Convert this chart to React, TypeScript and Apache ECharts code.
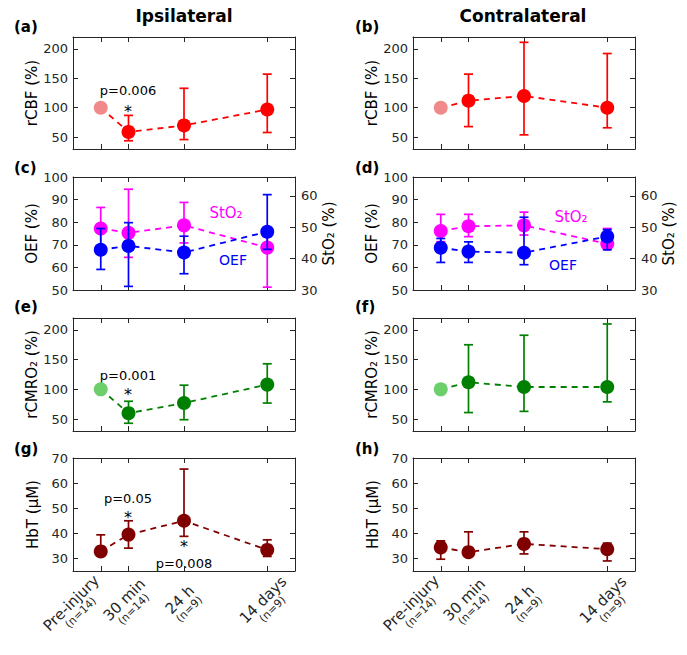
import React, { useEffect, useRef } from "react";
import * as echarts from "echarts";

const xPositions = [0, 1, 3, 6];
const xNames = ["Pre-injury", "30 min", "24 h", "14 days"];
const xCounts = ["(n=14)", "(n=14)", "(n=9)", "(n=9)"];

// (a) rCBF ipsilateral
const cbfIpsiMean = [100, 59, 70, 97];
const cbfIpsiLo = [null, 44, 46, 58];
const cbfIpsiHi = [null, 87, 133, 157];
// (b) rCBF contralateral
const cbfContraMean = [100, 112, 120, 100];
const cbfContraLo = [null, 68, 54, 66];
const cbfContraHi = [null, 157, 211, 192];
// (c) OEF / StO2 ipsilateral
const oefIpsiMean = [67.8, 69.5, 66.6, 75.8];
const oefIpsiLo = [59.1, 51.6, 57.2, 68];
const oefIpsiHi = [77.2, 79.8, 73.8, 92.2];
const sto2IpsiMean = [49.6, 48.2, 50.6, 43.5];
const sto2IpsiLo = [43, 40.4, 45, 30.9];
const sto2IpsiHi = [56.3, 62.1, 57.9, 47];
// (d) OEF / StO2 contralateral
const oefContraMean = [68.7, 67.0, 66.5, 73.7];
const oefContraLo = [62.2, 62.2, 61.2, 67.8];
const oefContraHi = [72.8, 71.3, 82.2, 76.7];
const sto2ContraMean = [48.8, 50.3, 50.6, 44.7];
const sto2ContraLo = [45.4, 47, 47.5, 43.6];
const sto2ContraHi = [54.1, 54.1, 54.8, 49.6];
// (e) rCMRO2 ipsilateral
const cmroIpsiMean = [100, 60, 77, 108];
const cmroIpsiLo = [null, 43, 49, 77];
const cmroIpsiHi = [null, 80, 107, 143];
// (f) rCMRO2 contralateral
const cmroContraMean = [100, 112, 104, 104];
const cmroContraLo = [null, 61, 63, 79];
const cmroContraHi = [null, 175, 191, 210];
// (g) HbT ipsilateral
const hbtIpsiMean = [32.8, 39.5, 45, 33.4];
const hbtIpsiLo = [31, 34.1, 38.8, 30.8];
const hbtIpsiHi = [39.4, 45, 65.6, 37.4];
// (h) HbT contralateral
const hbtContraMean = [34.4, 32.5, 35.8, 33.7];
const hbtContraLo = [29.7, 31, 31.8, 29];
const hbtContraHi = [37, 40.6, 40.6, 36.1];

const pctTicks = [50, 100, 150, 200];
const oefTicks = [50, 60, 70, 80, 90, 100];
const sto2Ticks = [30, 40, 50, 60];
const hbtTicks = [30, 40, 50, 60, 70];

const FONT = "DejaVu Sans";
const INK = "#262626";

type Trace = {
  mean: number[];
  lo: (number | null)[];
  hi: (number | null)[];
  color: string;
  firstColor?: string;
  right?: boolean;
};

type Panel = {
  left: number;
  top: number;
  height: number;
  yMin: number;
  yMax: number;
  yTicks: number[];
  yName: string;
  y2?: { min: number; max: number; ticks: number[]; name: string };
  traces: Trace[];
  xLabels?: boolean;
};

const W = 222;
const panels: Panel[] = [
  {
    left: 73, top: 37, height: 112, yMin: 30, yMax: 220, yTicks: pctTicks, yName: "rCBF (%)",
    traces: [{ mean: cbfIpsiMean, lo: cbfIpsiLo, hi: cbfIpsiHi, color: "#ff0000", firstColor: "#f08a8a" }],
  },
  {
    left: 413, top: 37, height: 112, yMin: 30, yMax: 220, yTicks: pctTicks, yName: "rCBF (%)",
    traces: [{ mean: cbfContraMean, lo: cbfContraLo, hi: cbfContraHi, color: "#ff0000", firstColor: "#f08a8a" }],
  },
  {
    left: 73, top: 177, height: 113, yMin: 50, yMax: 100, yTicks: oefTicks, yName: "OEF (%)",
    y2: { min: 30, max: 66, ticks: sto2Ticks, name: "StO₂ (%)" },
    traces: [
      { mean: sto2IpsiMean, lo: sto2IpsiLo, hi: sto2IpsiHi, color: "#ff00ff", right: true },
      { mean: oefIpsiMean, lo: oefIpsiLo, hi: oefIpsiHi, color: "#0000ff" },
    ],
  },
  {
    left: 413, top: 177, height: 113, yMin: 50, yMax: 100, yTicks: oefTicks, yName: "OEF (%)",
    y2: { min: 30, max: 66, ticks: sto2Ticks, name: "StO₂ (%)" },
    traces: [
      { mean: sto2ContraMean, lo: sto2ContraLo, hi: sto2ContraHi, color: "#ff00ff", right: true },
      { mean: oefContraMean, lo: oefContraLo, hi: oefContraHi, color: "#0000ff" },
    ],
  },
  {
    left: 73, top: 318, height: 113, yMin: 30, yMax: 220, yTicks: pctTicks, yName: "rCMRO₂ (%)",
    traces: [{ mean: cmroIpsiMean, lo: cmroIpsiLo, hi: cmroIpsiHi, color: "#008000", firstColor: "#6ccf6c" }],
  },
  {
    left: 413, top: 318, height: 113, yMin: 30, yMax: 220, yTicks: pctTicks, yName: "rCMRO₂ (%)",
    traces: [{ mean: cmroContraMean, lo: cmroContraLo, hi: cmroContraHi, color: "#008000", firstColor: "#6ccf6c" }],
  },
  {
    left: 73, top: 458, height: 113, yMin: 25, yMax: 70, yTicks: hbtTicks, yName: "HbT (μM)", xLabels: true,
    traces: [{ mean: hbtIpsiMean, lo: hbtIpsiLo, hi: hbtIpsiHi, color: "#800000" }],
  },
  {
    left: 413, top: 458, height: 113, yMin: 25, yMax: 70, yTicks: hbtTicks, yName: "HbT (μM)", xLabels: true,
    traces: [{ mean: hbtContraMean, lo: hbtContraLo, hi: hbtContraHi, color: "#800000" }],
  },
];

const rich = {
  a: { fontSize: 15, fontFamily: FONT, color: INK, align: "center", lineHeight: 15 },
  b: { fontSize: 11, fontFamily: FONT, color: INK, align: "center", lineHeight: 12 },
};

const fmtLabel = (v: number) => {
  const k = xPositions.indexOf(v);
  return k < 0 ? "" : `{a|${xNames[k]}}\n{b|${xCounts[k]}}`;
};

function buildOption() {
  const grid: any[] = [];
  const xAxis: any[] = [];
  const yAxis: any[] = [];
  const series: any[] = [];

  panels.forEach((p, i) => {
    grid.push({ left: p.left, top: p.top, width: W, height: p.height, containLabel: false });
    const lineStyle = { color: INK, width: 1 };
    const xBase = {
      gridIndex: i, type: "value", min: -1, max: 7,
      axisLine: { show: true, onZero: false, lineStyle },
      axisTick: { show: true, inside: true, length: 5, customValues: xPositions, lineStyle },
      splitLine: { show: false },
    };
    const restValues = xPositions.slice(1);
    xAxis.push({
      ...xBase,
      position: "bottom",
      axisLabel: p.xLabels
        ? {
            show: true, rotate: 45, align: "center", margin: 33, customValues: restValues, color: INK,
            showMinLabel: true, showMaxLabel: true, hideOverlap: false,
            formatter: fmtLabel, rich,
          }
        : { show: false },
    });
    xAxis.push({ ...xBase, position: "top", axisLabel: { show: false } });
    if (p.xLabels) {
      // second bottom axis carrying only the first (baseline) label, so that
      // the neighbour-overlap rule cannot hide any label
      xAxis.push({
        gridIndex: i, type: "value", min: -1, max: 7, position: "bottom",
        axisLine: { show: false, onZero: false },
        axisTick: { show: false },
        splitLine: { show: false },
        axisLabel: {
          show: true, rotate: 45, align: "right", margin: 11, customValues: xPositions.slice(0, 1),
          color: INK, showMinLabel: true, showMaxLabel: true, formatter: fmtLabel, rich,
        },
      });
    }

    const yBase = {
      gridIndex: i, type: "value", min: p.yMin, max: p.yMax,
      axisLine: { show: true, onZero: false, lineStyle },
      axisTick: { show: true, inside: true, length: 5, customValues: p.yTicks, lineStyle },
      splitLine: { show: false },
    };
    yAxis.push({
      ...yBase,
      position: "left",
      axisLabel: {
        show: true, customValues: p.yTicks, fontSize: 13, color: INK, fontFamily: FONT, margin: 5,
        showMinLabel: true, showMaxLabel: true,
      },
      name: p.yName, nameLocation: "middle", nameGap: 33,
      nameTextStyle: { fontSize: 15, color: "#000", fontFamily: FONT },
    });
    const yRightIndex = yAxis.length;
    if (p.y2) {
      yAxis.push({
        gridIndex: i, type: "value", min: p.y2.min, max: p.y2.max, position: "right",
        axisLine: { show: true, onZero: false, lineStyle },
        axisTick: { show: true, inside: true, length: 5, customValues: p.y2.ticks, lineStyle },
        splitLine: { show: false },
        axisLabel: {
          show: true, customValues: p.y2.ticks, fontSize: 13, color: INK, fontFamily: FONT, margin: 6,
          showMinLabel: true, showMaxLabel: true,
        },
        name: p.y2.name, nameLocation: "middle", nameGap: 25,
        nameTextStyle: { fontSize: 15, color: "#000", fontFamily: FONT },
      });
    } else {
      yAxis.push({ ...yBase, position: "right", axisLabel: { show: false } });
    }
    const yLeftIndex = yRightIndex - 1;
    const xIndex = xAxis.findIndex((a) => a.gridIndex === i);

    p.traces.forEach((t, ti) => {
      const yIdx = t.right ? yRightIndex : yLeftIndex;
      const errData = xPositions
        .map((x, k) => (t.lo[k] == null ? null : [x, t.lo[k], t.hi[k]]))
        .filter((d) => d != null);
      const z = 2 + ti * 2;
      if (errData.length) {
        series.push({
          type: "custom",
          xAxisIndex: xIndex,
          yAxisIndex: yIdx,
          z,
          data: errData,
          encode: { x: 0, y: [1, 2] },
          renderItem: (params: any, api: any) => {
            const x = api.value(0);
            const p1 = api.coord([x, api.value(1)]);
            const p2 = api.coord([x, api.value(2)]);
            const w = 4.5;
            const style = { stroke: t.color, lineWidth: 1.7, fill: "none" };
            return {
              type: "group",
              children: [
                { type: "line", shape: { x1: p1[0], y1: p1[1], x2: p2[0], y2: p2[1] }, style },
                { type: "line", shape: { x1: p1[0] - w, y1: p1[1], x2: p1[0] + w, y2: p1[1] }, style },
                { type: "line", shape: { x1: p2[0] - w, y1: p2[1], x2: p2[0] + w, y2: p2[1] }, style },
              ],
            };
          },
        });
      }
      series.push({
        type: "line",
        xAxisIndex: xIndex,
        yAxisIndex: yIdx,
        z: z + 1,
        symbol: "circle",
        symbolSize: 14,
        lineStyle: { color: t.color, width: 1.8, type: [6, 5] },
        itemStyle: { color: t.color },
        data: xPositions.map((x, k) => ({
          value: [x, t.mean[k]],
          itemStyle: k === 0 && t.firstColor ? { color: t.firstColor } : undefined,
        })),
      });
    });
  });

  const txt = (x: number, y: number, text: string, opts: any = {}) => ({
    type: "text",
    x, y,
    style: {
      text, fontFamily: FONT, fontSize: 13, fill: "#000",
      align: "center", verticalAlign: "middle", ...opts,
    },
  });
  const star = (x: number, y: number) => txt(x, y, "*", { fontSize: 16, lineHeight: 9 });

  const graphic = [
    txt(184, 16, "Ipsilateral", { fontSize: 17, fontWeight: "bold" }),
    txt(523, 16, "Contralateral", { fontSize: 17, fontWeight: "bold" }),
    txt(14, 27, "(a)", { fontSize: 15, fontWeight: "bold", align: "left" }),
    txt(355, 27, "(b)", { fontSize: 15, fontWeight: "bold", align: "left" }),
    txt(14, 168, "(c)", { fontSize: 15, fontWeight: "bold", align: "left" }),
    txt(355, 168, "(d)", { fontSize: 15, fontWeight: "bold", align: "left" }),
    txt(14, 307, "(e)", { fontSize: 15, fontWeight: "bold", align: "left" }),
    txt(355, 307, "(f)", { fontSize: 15, fontWeight: "bold", align: "left" }),
    txt(14, 449, "(g)", { fontSize: 15, fontWeight: "bold", align: "left" }),
    txt(355, 449, "(h)", { fontSize: 15, fontWeight: "bold", align: "left" }),
    txt(128, 90, "p=0.006"),
    star(128, 111),
    txt(128, 375, "p=0.001"),
    star(128, 394),
    txt(128, 498, "p=0.05"),
    star(128, 517),
    star(184, 546),
    txt(184, 563, "p=0.008"),
    txt(226, 213, "StO₂", { fontSize: 15, fill: "#ff00ff" }),
    txt(233, 260, "OEF", { fontSize: 14, fill: "#0000ff" }),
    txt(571, 217, "StO₂", { fontSize: 15, fill: "#ff00ff" }),
    txt(563, 265, "OEF", { fontSize: 14, fill: "#0000ff" }),
  ];

  return {
    animation: false,
    backgroundColor: "#ffffff",
    textStyle: { fontFamily: FONT },
    grid,
    xAxis,
    yAxis,
    series,
    graphic,
  };
}

export default function App() {
  const ref = useRef<HTMLDivElement>(null);
  useEffect(() => {
    if (!ref.current) return;
    const chart = echarts.init(ref.current, undefined, { renderer: "svg" });
    chart.setOption(buildOption() as any);
    return () => chart.dispose();
  }, []);
  return (
    <div
      ref={ref}
      style={{ position: "fixed", left: 0, top: 0, width: 687, height: 655, background: "#fff" }}
    />
  );
}
